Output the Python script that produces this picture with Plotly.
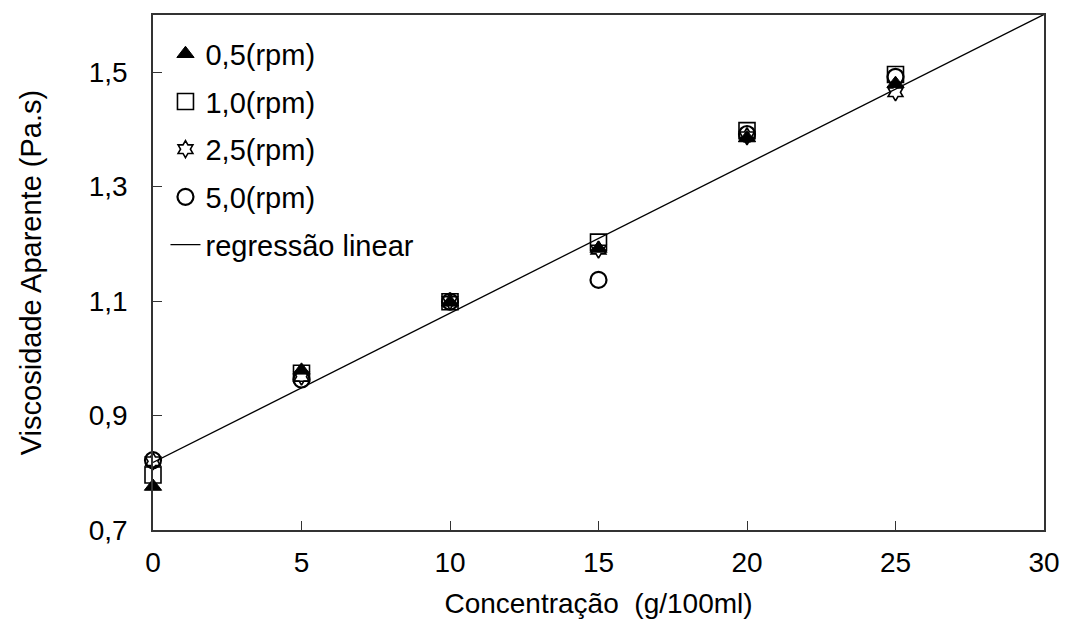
import plotly.graph_objects as go

conc = [0, 5, 10, 15, 20, 25]
v_05 = [0.776, 0.979, 1.098, 1.192, 1.385, 1.480]
v_10 = [0.796, 0.974, 1.099, 1.203, 1.398, 1.496]
v_25 = [0.820, 0.968, 1.100, 1.190, 1.388, 1.465]
v_50 = [0.822, 0.963, 1.099, 1.137, 1.392, 1.492]

series_names = ["0,5(rpm)", "1,0(rpm)", "2,5(rpm)", "5,0(rpm)"]
reg_name = "regressão linear"
reg_intercept = 0.818
reg_slope = 0.0261
reg_x = [0, 30]

x_ticks = [0, 5, 10, 15, 20, 25, 30]
y_ticks = [0.7, 0.9, 1.1, 1.3, 1.5]
y_ticklabels = ["0,7", "0,9", "1,1", "1,3", "1,5"]

FONT = "Liberation Sans, Arial, sans-serif"

reg_y = [reg_intercept + reg_slope * xv for xv in reg_x]

fig = go.Figure()
styles = [
    dict(symbol="triangle-up", color="black", size=15, line=dict(color="black", width=1)),
    dict(symbol="square-open", color="black", size=16, line=dict(color="black", width=1.6)),
    dict(symbol="hexagram-open", color="black", size=13, line=dict(color="black", width=1.6)),
    dict(symbol="circle-open", color="black", size=16, line=dict(color="black", width=2.2)),
]
for i, (name, vals) in enumerate(zip(series_names, [v_05, v_10, v_25, v_50])):
    fig.add_trace(go.Scatter(
        x=conc, y=vals, mode="markers", name=name,
        marker=styles[i], cliponaxis=False, legendgroup="g%d" % i,
    ))
fig.add_trace(go.Scatter(
    x=reg_x, y=reg_y, mode="lines", name=reg_name,
    line=dict(color="black", width=1.3), legendgroup="g4",
))

axis_common = dict(
    showline=True, linecolor="#333", linewidth=1.6, mirror=True,
    ticks="inside", ticklen=9, tickcolor="#333", tickwidth=1.2,
    showgrid=False, zeroline=False,
    tickfont=dict(family=FONT, size=28, color="black"),
)

fig.update_layout(
    width=1072, height=635,
    paper_bgcolor="white", plot_bgcolor="white",
    margin=dict(l=153, r=24, t=15, b=105),
    font=dict(family=FONT, color="black"),
    xaxis=dict(range=[0, 30], tickvals=x_ticks, ticktext=[str(t) for t in x_ticks],
               ticklabelstandoff=7,
               title=dict(text="Concentração  (g/100ml)", standoff=16,
                          font=dict(family=FONT, size=28, color="black")),
               **axis_common),
    yaxis=dict(range=[0.7, 1.6], tickvals=y_ticks, ticktext=y_ticklabels,
               ticklabelstandoff=18,
               title=dict(text="Viscosidade Aparente (Pa.s)", standoff=39,
                          font=dict(family=FONT, size=29, color="black")),
               **axis_common),
    legend=dict(x=0.014, y=0.974, xanchor="left", yanchor="top",
                bgcolor="rgba(0,0,0,0)", font=dict(family=FONT, size=29, color="black"),
                tracegroupgap=7, itemwidth=30),
    showlegend=True,
)

fig.write_html("out.html")
